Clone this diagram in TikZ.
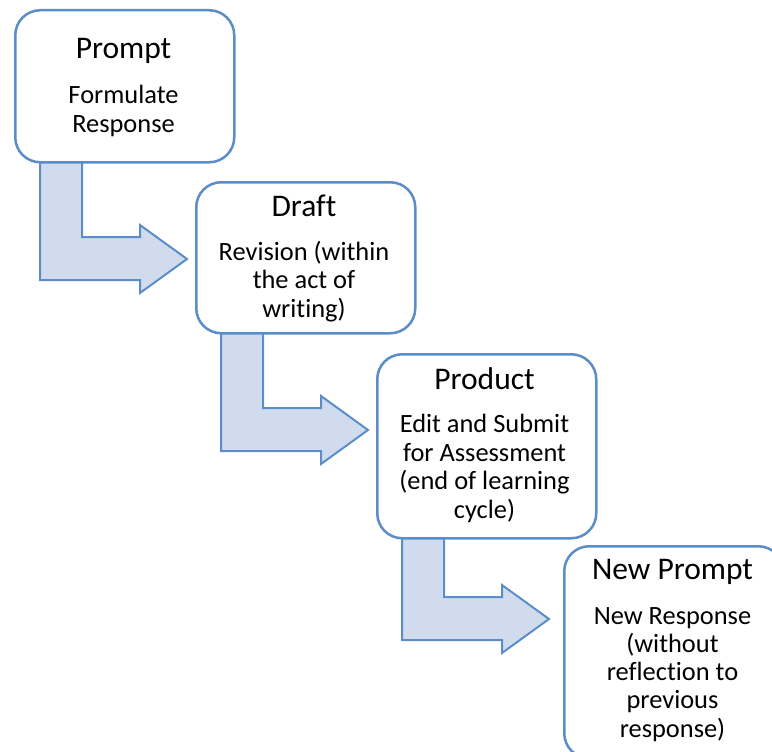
\documentclass[tikz,border=0pt]{standalone}
\usepackage{fontspec}
\setmainfont[Ligatures={NoCommon}]{Carlito}
\definecolor{bord}{RGB}{91,141,201}
\definecolor{afill}{RGB}{208,220,238}
\begin{document}
\begin{tikzpicture}[x=1pt,y=-1pt,
 stage/.style={draw=bord, line width=2.5pt, fill=white, rounded corners=25pt, minimum width=219pt, anchor=north west, inner sep=0pt},
 bentarrow/.style={draw=bord, line width=2pt, fill=afill, line join=miter},
 ttl/.style={font=\fontsize{31.5}{36}\selectfont, anchor=base, inner sep=0pt},
 txt/.style={font=\fontsize{26.4}{29}\selectfont, anchor=base, inner sep=0pt}]
\useasboundingbox (0,0) rectangle (772,752);
\clip (0,0) rectangle (772,752);
% bent arrows
\draw[bentarrow] (40,150) -- (82,150) -- (82,237) -- (140,237) -- (140,225) -- (187,259) -- (140,293) -- (140,280) -- (40,280) -- cycle;
\draw[bentarrow] (221,321) -- (263,321) -- (263,408) -- (321,408) -- (321,396) -- (368,430) -- (321,464) -- (321,451) -- (221,451) -- cycle;
\draw[bentarrow] (402,526) -- (444,526) -- (444,597) -- (502,597) -- (502,585) -- (549,619) -- (502,653) -- (502,640) -- (402,640) -- cycle;
% boxes
\node[stage, minimum height=152pt] (s1) at (14,9) {};
\node[stage, minimum height=151pt] (s2) at (195,181) {};
\node[stage, minimum height=184pt] (s3) at (376,353) {};
\node[stage, minimum height=212pt] (s4) at (563,545) {};
% texts
\node[ttl] (t1) at (123.5,59) {Prompt};
\node[txt] (t1a) at (123.5,103) {Formulate};
\node[txt] (t1b) at (123.5,132) {Response};
\node[ttl] (t2) at (304,216) {Draft};
\node[txt] (t2a) at (304,260) {Revision (within};
\node[txt] (t2b) at (304,288) {the act of};
\node[txt] (t2c) at (304,317) {writing)};
\node[ttl] (t3) at (484.5,389) {Product};
\node[txt] (t3a) at (484.5,432) {Edit and Submit};
\node[txt] (t3b) at (484.5,461) {for Assessment};
\node[txt] (t3c) at (484.5,489) {(end of learning};
\node[txt] (t3d) at (484.5,518) {cycle)};
\node[ttl] (t4) at (672.5,579) {New Prompt};
\node[txt] (t4a) at (672.5,624) {New Response};
\node[txt] (t4b) at (672.5,652) {(without};
\node[txt] (t4c) at (672.5,680) {reflection to};
\node[txt] (t4d) at (672.5,708) {previous};
\node[txt] (t4e) at (672.5,737) {response)};
\end{tikzpicture}
\end{document}
